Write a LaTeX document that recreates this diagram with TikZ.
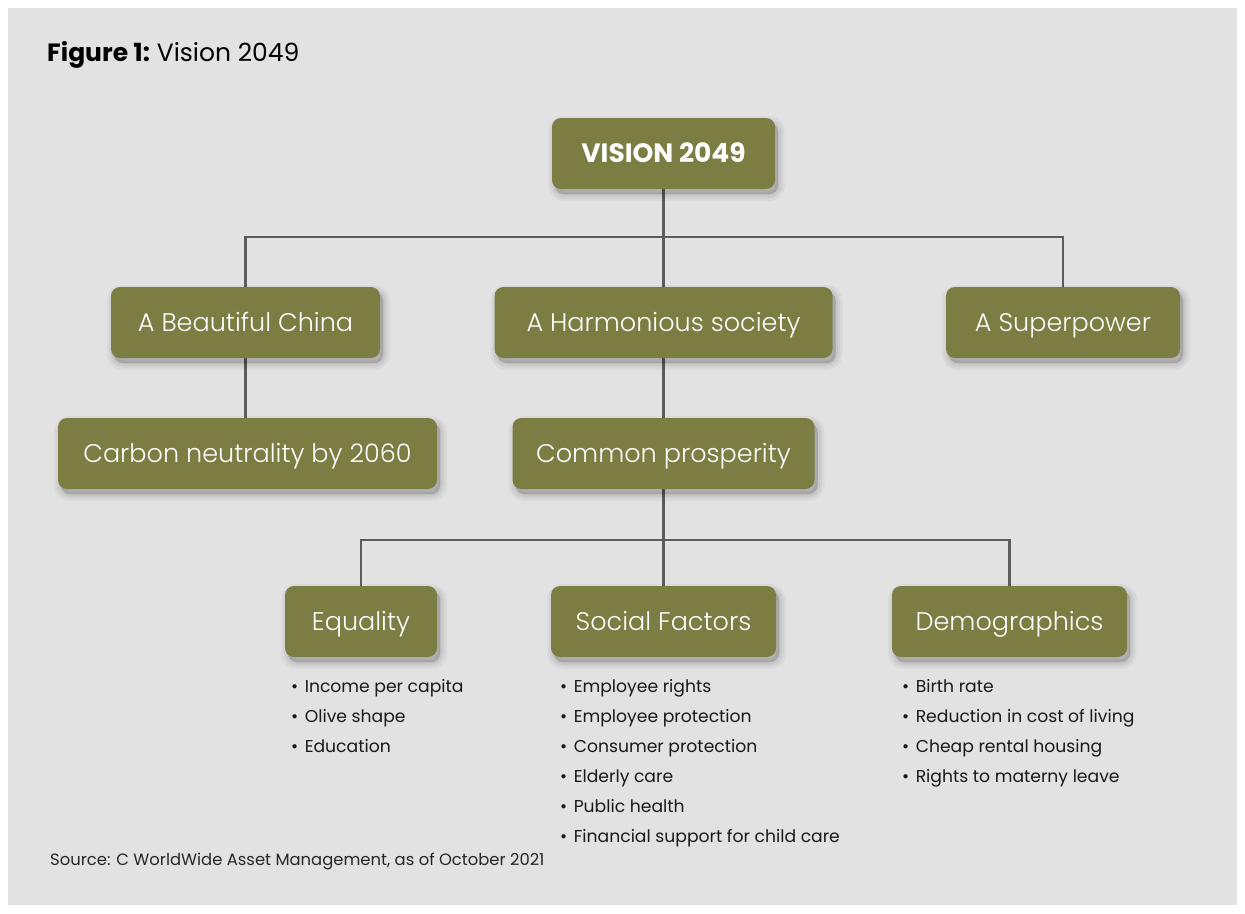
\documentclass[tikz,border=0pt]{standalone}
\usepackage{fontspec}
\setmainfont{Poppins}
\newfontfamily\lightf{Poppins Light}
\usetikzlibrary{backgrounds}
\definecolor{olivebox}{HTML}{7B7D42}
\definecolor{bggray}{HTML}{E2E2E2}
\definecolor{linegray}{HTML}{5C5C5C}
\newcommand{\bul}{•\hspace{6.5pt}}
\tikzset{
  shadowlayer/.style={preaction={fill=black, fill opacity=0.04, draw=black, draw opacity=0.04,
    line width=#1, transform canvas={shift={(3pt,-5pt)}}}},
  box/.style={fill=olivebox, rounded corners=9pt, text=white, inner sep=0pt,
    font=\lightf\fontsize{25.5}{28}\selectfont, text height=17.8pt, text depth=0pt,
    shadowlayer=14pt, shadowlayer=9pt, shadowlayer=5pt, shadowlayer=1pt},
  conn/.style={draw=linegray, line width=2.4pt},
  blist/.style={anchor=north west, align=left, inner sep=0pt, text=black!90,
    font=\fontsize{17.2}{30}\selectfont},
}
\begin{document}
\begin{tikzpicture}[x=1pt,y=-1pt]
\useasboundingbox (0,0) rectangle (1245,913);
% nodes
\node[box, minimum width=223pt, minimum height=71pt, font=\fontsize{26.5}{28}\selectfont\bfseries, text height=18.5pt] (vision) at (663.5,153.5) {VISION 2049};
\node[box, minimum width=269pt, minimum height=71pt] (bc) at (245.5,322.5) {A Beautiful China};
\node[box, minimum width=338pt, minimum height=71pt] (hs) at (663.5,322.5) {A Harmonious society};
\node[box, minimum width=234pt, minimum height=71pt] (sp) at (1063,322.5) {A Superpower};
\node[box, minimum width=379pt, minimum height=71pt] (cn) at (247.5,453.5) {Carbon neutrality by 2060};
\node[box, minimum width=302pt, minimum height=71pt] (cp) at (663.5,453.5) {Common prosperity};
\node[box, minimum width=152pt, minimum height=71pt] (eq) at (361,621.5) {Equality};
\node[box, minimum width=225pt, minimum height=71pt] (sf) at (663.5,621.5) {Social Factors};
\node[box, minimum width=235pt, minimum height=71pt] (dm) at (1009.5,621.5) {Demographics};
% lists
\node[blist] (eqlist) at (291,679) {\bul Income per capita\\\bul Olive shape\\\bul Education};
\node[blist] (sflist) at (560,679) {\bul Employee rights\\\bul Employee protection\\\bul Consumer protection\\\bul Elderly care\\\bul Public health\\\bul Financial support for child care};
\node[blist] (dmlist) at (902,679) {\bul Birth rate\\\bul Reduction in cost of living\\\bul Cheap rental housing\\\bul Rights to materny leave};
% title and source
\node[anchor=west, inner sep=0pt, font=\fontsize{25}{28}\selectfont] (title) at (47,55) {\textbf{Figure 1:}\hspace{-2pt} Vision 2049};
\node[anchor=west, inner sep=0pt, font=\fontsize{16.4}{18}\selectfont, text=black!85] (source) at (50,861) {Source: C WorldWide Asset Management, as of October 2021};
% background and connectors
\begin{scope}[on background layer]
\fill[bggray] (8,8) rectangle (1237,905);
\draw[conn] (vision.south) -- (hs.north);
\draw[conn] (bc.north) -- ++(0,-50) -| (sp.north);
\draw[conn] (bc.south) -- (bc.south |- cn.north);
\draw[conn] (hs.south) -- (cp.north);
\draw[conn] (cp.south) -- (sf.north);
\draw[conn] (eq.north) -- ++(0,-46) -| (dm.north);
\end{scope}
\end{tikzpicture}
\end{document}
